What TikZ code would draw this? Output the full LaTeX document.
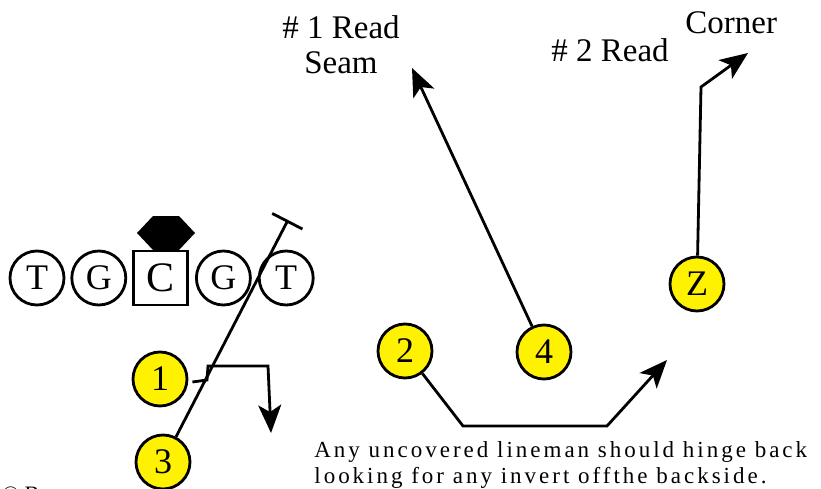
\documentclass[tikz,border=0pt]{standalone}
\usepackage{fontspec}
\setmainfont{Liberation Serif}
\usetikzlibrary{arrows.meta, positioning}

\begin{document}
\begin{tikzpicture}[
  x=1pt, y=-1pt,
  line width=2.8pt,
  node distance = 5pt,
  man/.style   = {
    circle, draw, line width=2.8pt,
    minimum size=54pt, inner sep=0pt,
    font=\fontsize{36}{40}\selectfont
  },
  ctr/.style   = {man, rectangle, font=\fontsize{42}{46}\selectfont},
  skill/.style = {man, fill=yellow},
  route/.style = {-{Stealth[length=28pt, width=23pt, inset=7pt]}},
  lbl/.style   = {inner sep=0pt, font=\fontsize{33}{35}\selectfont},
  note/.style  = {inner sep=0pt, align=left,
    font=\fontsize{23}{26}\selectfont\addfontfeatures{LetterSpace=13}}
]
\clip (0,0) rectangle (821,489);

%% ---- Offensive line ----
\node[man] (lt) at (37,278) {T};
\node[man, right=of lt] (lg) {G};
\node[ctr, right=of lg] (cc) {C};
\node[man, right=6pt of cc] (rg) {G};
\node[man, right=6pt of rg] (rt) {T};

\coordinate (nose) at (166,233);
\fill[shift={(nose)}] (-13,-17) -- (13,-17) -- (29,0) -- (13,17) -- (-13,17) -- (-29,0) -- cycle;

%% ---- Backs and receivers ----
\node[skill] (r1) at (160,379) {1};
\node[skill] (r3) at (163,462) {3};
\node[skill] (r2) at (405,351) {2};
\node[skill] (r4) at (544,352) {4};
\node[skill] (rz) at (697,284) {Z};

%% ---- Routes ----
\coordinate (blk) at (288,220);
\draw[-{Bar[width=34pt]}] (r3) -- (blk);

\draw[route] ([xshift=4pt, yshift=-3pt]r1.east) -- (207,380) -- (208,366)
  -- (268,366) -- (271,433);

\coordinate (seam) at (412,68);
\draw[route] (r4) -- (seam);

\coordinate (zbrk) at (701,87);
\coordinate (corner) at (748,53);
\draw[route] (rz) -- (zbrk) -- (corner);

\draw[route] (r2) -- (463,426) -- (607,426) -- (667,360);

%% ---- Labels ----
\node[lbl, align=center, anchor=north] (read1) at (341,14) {\# 1 Read\\Seam};
\node[lbl, anchor=base west] (read2) at (550,62) {\# 2 Read};
\node[lbl, anchor=base west] (cnr) at (684,34) {Corner};

\node[note, anchor=north west] (hinge) at (313,440)
  {Any uncovered lineman should hinge back\\looking for any invert offthe backside.};

\node[inner sep=0pt, anchor=base west, font=\fontsize{22}{26}\selectfont] (copy) at (1,501) {© B};
\end{tikzpicture}
\end{document}
